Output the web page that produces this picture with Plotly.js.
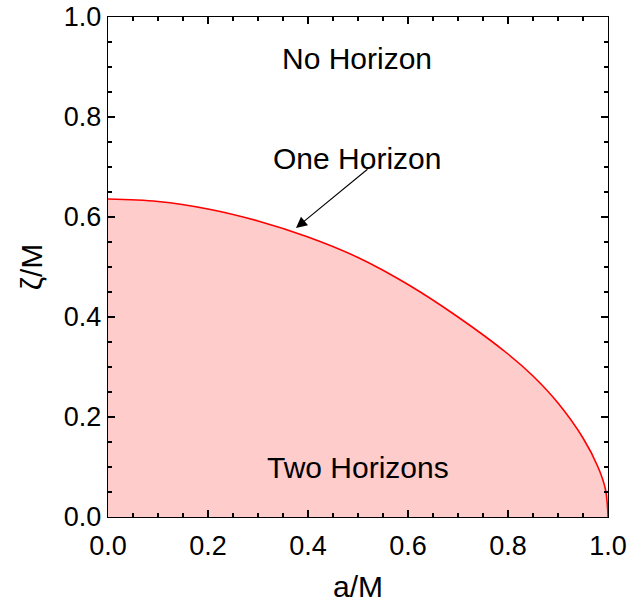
<!DOCTYPE html>
<html>
<head>
<meta charset="utf-8">
<script src="https://cdn.plot.ly/plotly-3.0.1.min.js"></script>
<style>html,body{margin:0;padding:0;background:#fff;}</style>
</head>
<body>
<div id="chart" style="width:642px;height:604px;"></div>
<script>
// boundary between one and two horizons
const spinA = [0, 0.1, 0.2, 0.3, 0.4, 0.5, 0.6, 0.7, 0.8, 0.85, 0.9, 0.95, 0.98, 0.995, 1.0];
const zetaMax = [0.636, 0.631, 0.616, 0.592, 0.560, 0.519, 0.465, 0.400, 0.326, 0.282, 0.228, 0.158, 0.100, 0.055, 0.0];
const tickVals = [0, 0.2, 0.4, 0.6, 0.8, 1.0];
const tickText = ["0.0", "0.2", "0.4", "0.6", "0.8", "1.0"];
const regionLabels = ["No Horizon", "One Horizon", "Two Horizons"];
const labelA = [0.498, 0.498, 0.499];
const labelZ = [0.918, 0.718, 0.099];
const arrowHead = [0.376, 0.578];
const arrowTail = [0.522, 0.698];

const FONT = "Liberation Sans, Arial, sans-serif";

const trace = {
  x: spinA, y: zetaMax,
  type: 'scatter', mode: 'lines',
  line: {color: 'rgb(255,0,0)', width: 1.6, shape: 'spline', smoothing: 1},
  fill: 'tozeroy', fillcolor: 'rgb(255,204,204)',
  hoverinfo: 'skip'
};

const axisBase = {
  range: [0, 1], tickvals: tickVals, ticktext: tickText,
  ticks: 'inside', ticklen: 7, tickwidth: 1.3, tickcolor: '#000',
  minor: {dtick: 0.05, ticks: 'inside', ticklen: 4, tickwidth: 1.1, tickcolor: '#000'},
  showline: true, linecolor: '#000', linewidth: 1.3, mirror: 'ticks',
  showgrid: false, zeroline: false, fixedrange: true,
  tickfont: {family: FONT, size: 27, color: '#000'}
};

const annotations = regionLabels.map((t, i) => ({
  x: labelA[i], y: labelZ[i], xref: 'x', yref: 'y', text: t, showarrow: false,
  font: {family: FONT, size: 30, color: '#000'}, xanchor: 'center', yanchor: 'middle'
}));
annotations.push({
  x: arrowHead[0], y: arrowHead[1], ax: arrowTail[0], ay: arrowTail[1],
  xref: 'x', yref: 'y', axref: 'x', ayref: 'y', text: '', showarrow: true,
  arrowhead: 2, arrowsize: 2, arrowwidth: 1.1, arrowcolor: '#000'
});

const layout = {
  width: 642, height: 604,
  margin: {l: 108, r: 34, t: 17, b: 87},
  paper_bgcolor: '#fff', plot_bgcolor: '#fff',
  showlegend: false,
  xaxis: Object.assign({}, axisBase, {
    ticklabelstandoff: 4,
    title: {text: 'a/M', font: {family: FONT, size: 30, color: '#000'}, standoff: 16}
  }),
  yaxis: Object.assign({}, axisBase, {
    title: {text: 'ζ/M', font: {family: FONT, size: 30, color: '#000'}, standoff: 12}
  }),
  annotations: annotations
};

Plotly.newPlot('chart', [trace], layout, {staticPlot: true, displayModeBar: false});
</script>
</body>
</html>
